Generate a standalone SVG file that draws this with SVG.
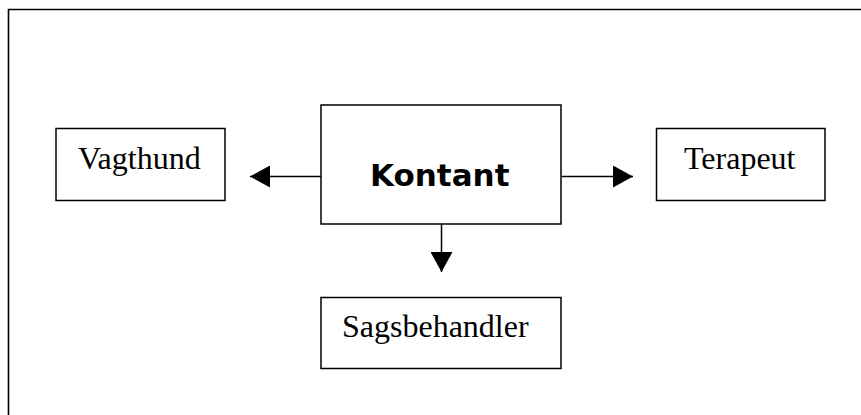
<svg xmlns="http://www.w3.org/2000/svg" width="861" height="415" viewBox="0 0 861 415">
<style>
.box{fill:#fff;stroke:#000;stroke-width:1.5}
.t{font-family:"Liberation Serif","Times New Roman",serif;font-size:32px;fill:#000}
.b{font-family:"DejaVu Sans",Verdana,sans-serif;font-size:31px;font-weight:bold;fill:#000}
.c{stroke:#000;stroke-width:1.5;fill:none}
</style>
<defs>
<marker id="ah" markerWidth="20" markerHeight="22" refX="20" refY="11" orient="auto" markerUnits="userSpaceOnUse">
<path d="M0,0 L20,11 L0,22 Z" fill="#000"/>
</marker>
</defs>
<rect x="0" y="0" width="861" height="415" fill="#fff"/>
<path d="M8.5,420 L8.5,9.5 L870,9.5" fill="none" stroke="#000" stroke-width="1.6"/>
<g id="connectors">
<line class="c" x1="321" y1="176.5" x2="250" y2="176.5" marker-end="url(#ah)"/>
<line class="c" x1="562" y1="176.5" x2="633" y2="176.5" marker-end="url(#ah)"/>
<line class="c" x1="441.5" y1="224" x2="441.5" y2="272" marker-end="url(#ah)"/>
</g>
<g id="kontant">
<rect class="box" x="321" y="105" width="240" height="119"/>
<text class="b" x="370" y="185.5">Kontant</text>
</g>
<g id="vagthund">
<rect class="box" x="56" y="128.5" width="169" height="72"/>
<text class="t" x="78" y="169">Vagthund</text>
</g>
<g id="terapeut">
<rect class="box" x="656.5" y="128.5" width="168.5" height="72"/>
<text class="t" x="684" y="169">Terapeut</text>
</g>
<g id="sagsbehandler">
<rect class="box" x="321" y="297.5" width="240" height="71"/>
<text class="t" x="342" y="336.5">Sagsbehandler</text>
</g>
</svg>
